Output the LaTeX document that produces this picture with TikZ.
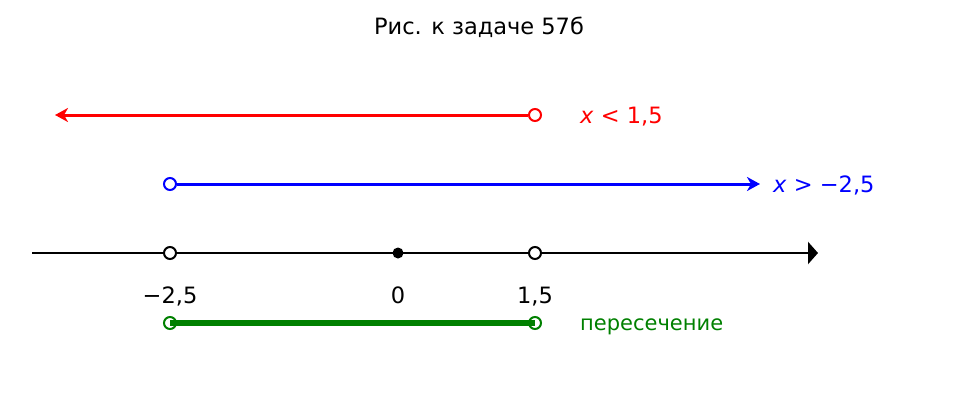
\documentclass[tikz,border=0pt]{standalone}
\usepackage{fontspec}
\setmainfont{DejaVu Sans}
\usepackage{tikz}
\usetikzlibrary{arrows.meta, positioning, calc}
\definecolor{set-green}{RGB}{0, 128, 0}
\newcommand{\var}{\textit{x}}

\begin{document}
\begin{tikzpicture}[x=1pt, y=-1pt,
        hole/.style={circle, draw, fill=white, line width=2pt,
                     minimum size=12pt, inner sep=0pt},
        dot/.style={circle, fill=black, minimum size=11pt, inner sep=0pt},
        lbl/.style={font=\fontsize{22.5}{27}\selectfont, inner sep=0pt, anchor=base},
        ray/.style={-{Stealth[length=13pt, width=14pt, inset=4pt]}, line width=3pt}
      ]
        \useasboundingbox (0,0) rectangle (959,407);
        \node[lbl] (title) at (479,34) {Рис. к задаче 57б};
        % number axis
        \coordinate (ax0) at (32,253);
        \coordinate (ax1) at (818,253);
        \draw[line width=2.8pt, -{Triangle[length=10pt, width=22pt]}] (ax0) -- (ax1);
        \node[hole] (pa) at (170,253) {};
        \node[dot] (pz) at (398,253) {};
        \node[hole] (pb) at (535,253) {};
        \node[lbl] (ta) at (170,303) {−2,5};
        \node[lbl] (tz) at (398,303) {0};
        \node[lbl] (tb) at (535,303) {1,5};
        % x < 1,5
        \coordinate (r0) at (55,115);
        \node[hole, draw=red] (r1) at (535,115) {};
        \draw[ray, red] (r1) -- (r0);
        \node[lbl, red, anchor=base west] (rl) at (580,123) {\var{} < 1,5};
        % x > -2,5
        \node[hole, draw=blue] (b0) at (170,184) {};
        \coordinate (b1) at (760,184);
        \draw[ray, blue] (b0) -- (b1);
        \node[lbl, blue, anchor=base west] (bl) at (773,192) {\var{} > −2,5};
        % intersection
        \node[hole, draw=set-green, fill=none] (g0) at (170,323) {};
        \node[hole, draw=set-green, fill=none] (g1) at (535,323) {};
        \draw[set-green, line width=6.5pt] (g0.center) -- (g1.center);
        \node[lbl, set-green, anchor=base west, font=\fontsize{21}{25}\selectfont] (gl) at (580,330) {пересечение};
      \end{tikzpicture}
\end{document}
